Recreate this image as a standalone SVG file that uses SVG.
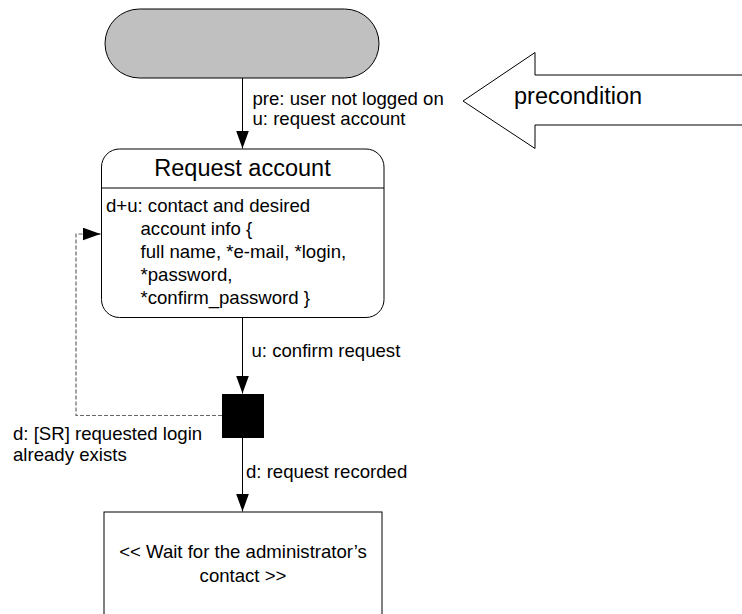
<svg xmlns="http://www.w3.org/2000/svg" width="742" height="614" viewBox="0 0 742 614">
<style>
.t{font-family:"Liberation Sans",Arial,sans-serif;font-size:18.6px;fill:#000}
.big{font-size:23.5px}
.ln{stroke:#000;stroke-width:1;fill:none}
.dash{stroke:#666;stroke-width:1.2;fill:none;stroke-dasharray:4 2}
</style>
<defs>
<marker id="ah" markerUnits="userSpaceOnUse" markerWidth="20" markerHeight="14" refX="18" refY="6.5" orient="auto">
<path d="M0,0 L18,6.5 L0,13 Z" fill="#000"/>
</marker>
</defs>
<rect width="742" height="614" fill="#fff"/>
<g id="start">
<rect x="105" y="9" width="274" height="69" rx="34.5" ry="34.5" fill="#c0c0c0" stroke="#000" stroke-width="1"/>
</g>
<g id="precondition">
<polygon points="463,101 535,52.5 535,75 760,75 760,125 535,125 535,148.5" fill="#fff" stroke="#000" stroke-width="1"/>
<text class="t big" x="514" y="104">precondition</text>
</g>
<g id="request-account">
<rect x="101.5" y="149" width="282.5" height="168.5" rx="18" ry="18" fill="#fff" stroke="#000" stroke-width="1"/>
<line class="ln" x1="101.5" y1="188" x2="384" y2="188"/>
<text class="t big" x="242.5" y="176" text-anchor="middle">Request account</text>
<text class="t" x="106" y="212">d+u: contact and desired</text>
<text class="t" x="140.5" y="235">account info {</text>
<text class="t" x="140.5" y="258">full name, *e-mail, *login,</text>
<text class="t" x="140.5" y="281">*password,</text>
<text class="t" x="140.5" y="304">*confirm_password }</text>
</g>
<g id="decision">
<rect x="222" y="394" width="42" height="44" fill="#000"/>
</g>
<g id="wait">
<rect x="104" y="512" width="278" height="120" fill="#fff" stroke="#000" stroke-width="1"/>
<text class="t" x="243" y="558" text-anchor="middle">&lt;&lt; Wait for the administrator’s</text>
<text class="t" x="243" y="582" text-anchor="middle">contact &gt;&gt;</text>
</g>
<g id="connectors">
<line class="ln" x1="242.5" y1="78" x2="242.5" y2="148.5" marker-end="url(#ah)"/>
<line class="ln" x1="242.5" y1="317.5" x2="242.5" y2="393.5" marker-end="url(#ah)"/>
<line class="ln" x1="242.5" y1="438" x2="242.5" y2="511.5" marker-end="url(#ah)"/>
<polyline class="dash" points="222,415.5 76,415.5 76,234 84,234"/>
<line class="ln" x1="84" y1="234" x2="100.5" y2="234" stroke-width="0" marker-end="url(#ah)"/>
</g>
<g id="labels">
<text class="t" x="252.5" y="104.5">pre: user not logged on</text>
<text class="t" x="252.5" y="125">u: request account</text>
<text class="t" x="251.5" y="357">u: confirm request</text>
<text class="t" x="13" y="440">d: [SR] requested login</text>
<text class="t" x="13" y="460.5">already exists</text>
<text class="t" x="246" y="478">d: request recorded</text>
</g>
</svg>
